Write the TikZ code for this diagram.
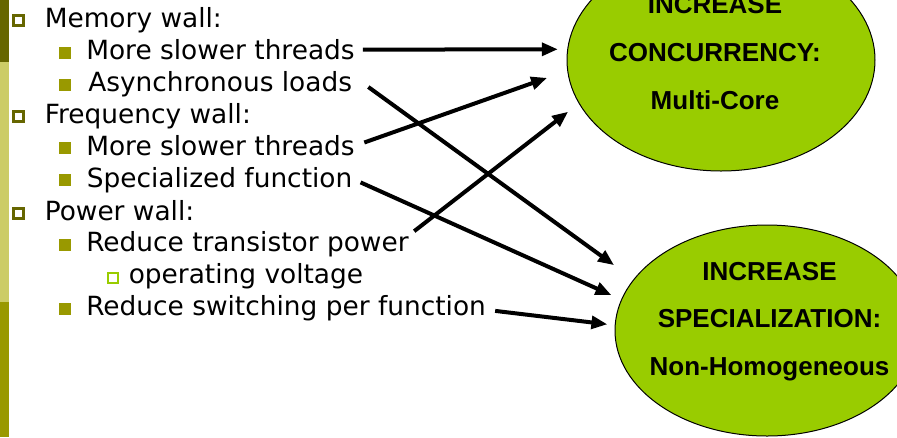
\documentclass[tikz,border=0pt]{standalone}
\usepackage{fontspec}
\setmainfont{DejaVu Sans}
\newfontfamily\ellfont{Liberation Sans}
\usepackage{tikz}
\usetikzlibrary{arrows.meta,shapes.geometric,positioning}
\definecolor{olive1}{RGB}{102,102,0}
\definecolor{olive2}{RGB}{153,153,0}
\definecolor{olive3}{RGB}{204,204,102}
\definecolor{green1}{RGB}{153,204,0}

\begin{document}
\begin{tikzpicture}[x=0.75pt,y=-0.75pt,
    item/.style={anchor=base west, inner sep=0pt, font=\fontsize{19.8}{24}\selectfont},
    bulletA/.style={draw=olive1, fill=white, line width=2.25pt, minimum size=7.5pt, inner sep=0pt},
    bulletB/.style={fill=olive2, minimum size=9pt, inner sep=0pt},
    bulletC/.style={draw=green1, fill=white, line width=1.5pt, minimum size=7.5pt, inner sep=0pt},
    goal/.style={draw=black, fill=green1, shape=ellipse, line width=0.75pt, inner sep=0pt},
    goaltext/.style={anchor=base, align=center, inner sep=0pt, font=\ellfont\bfseries\fontsize{19.5}{36}\selectfont},
    bigarrow/.style={-{Triangle[length=12pt,width=9.5pt]}, line width=3pt, black}
]
    \useasboundingbox (0,0) rectangle (897,437);
    \clip (0,0) rectangle (897,437);

    % side bar
    \fill[olive1] (0,0) rectangle (9,62);
    \fill[olive3] (0,62) rectangle (9,302);
    \fill[olive2] (0,302) rectangle (9,437);

    % goals (anchor=base is the last line)
    \node[goal, minimum width=231pt, minimum height=166.5pt, name=conc] at(721,60) {};
    \node[goaltext, name=concT] at(715,109) {INCREASE\\CONCURRENCY:\\Multi-Core};
    \node[goal, minimum width=228pt, minimum height=158.25pt, name=spec] at(767,330.5) {};
    \node[goaltext, font=\ellfont\bfseries\fontsize{19.5}{35.6}\selectfont, name=specT] at(769.5,375) {INCREASE\\SPECIALIZATION:\\Non-Homogeneous};

    % list
    \node[bulletA, name=b1] at(18.5,20) {};
    \node[item, name=mem] at(44.5,27) {Memory wall:};
    \node[bulletB, name=b2] at(65,52.5) {};
    \node[item, name=memA] at(86,59.5) {More slower threads};
    \node[bulletB, name=b3] at(65,84.5) {};
    \node[item, name=memB] at(88,91) {Asynchronous loads};

    \node[bulletA, name=b4] at(18.5,116.5) {};
    \node[item, name=freq] at(44.5,123) {Frequency wall:};
    \node[bulletB, name=b5] at(65,148) {};
    \node[item, name=freqA] at(86,155) {More slower threads};
    \node[bulletB, name=b6] at(65,180) {};
    \node[item, name=freqB] at(86.5,187) {Specialized function};

    \node[bulletA, name=b7] at(18.5,213) {};
    \node[item, name=pow] at(44.5,220) {Power wall:};
    \node[bulletB, name=b8] at(65,244.5) {};
    \node[item, name=powA] at(86,251.5) {Reduce transistor power};
    \node[bulletC, name=b9] at(113,277.5) {};
    \node[item, name=powAa] at(128.5,283.5) {operating voltage};
    \node[bulletB, name=b10] at(65,308.5) {};
    \node[item, name=powB] at(86,315.5) {Reduce switching per function};

    % arrows
    \draw[bigarrow, shorten >=7pt] ([xshift=6pt]memA.east) -- (conc.176.6);
    \draw[bigarrow, shorten >=18pt] ([xshift=12pt,yshift=3pt]memB.base east) -- (spec.159.9);
    \draw[bigarrow, shorten >=16pt] ([xshift=7pt,yshift=2pt]freqA.east) -- (conc.184.9);
    \draw[bigarrow, shorten >=8pt] ([xshift=6pt,yshift=-2pt]freqB.east) -- (spec.168.8);
    \draw[bigarrow, shorten >=10pt] ([xshift=4pt]powA.north east) -- (conc.197.8);
    \draw[bigarrow, shorten >=5.5pt] ([xshift=6.75pt,yshift=-2pt]powB.east) -- (spec.178.3);
\end{tikzpicture}
\end{document}
